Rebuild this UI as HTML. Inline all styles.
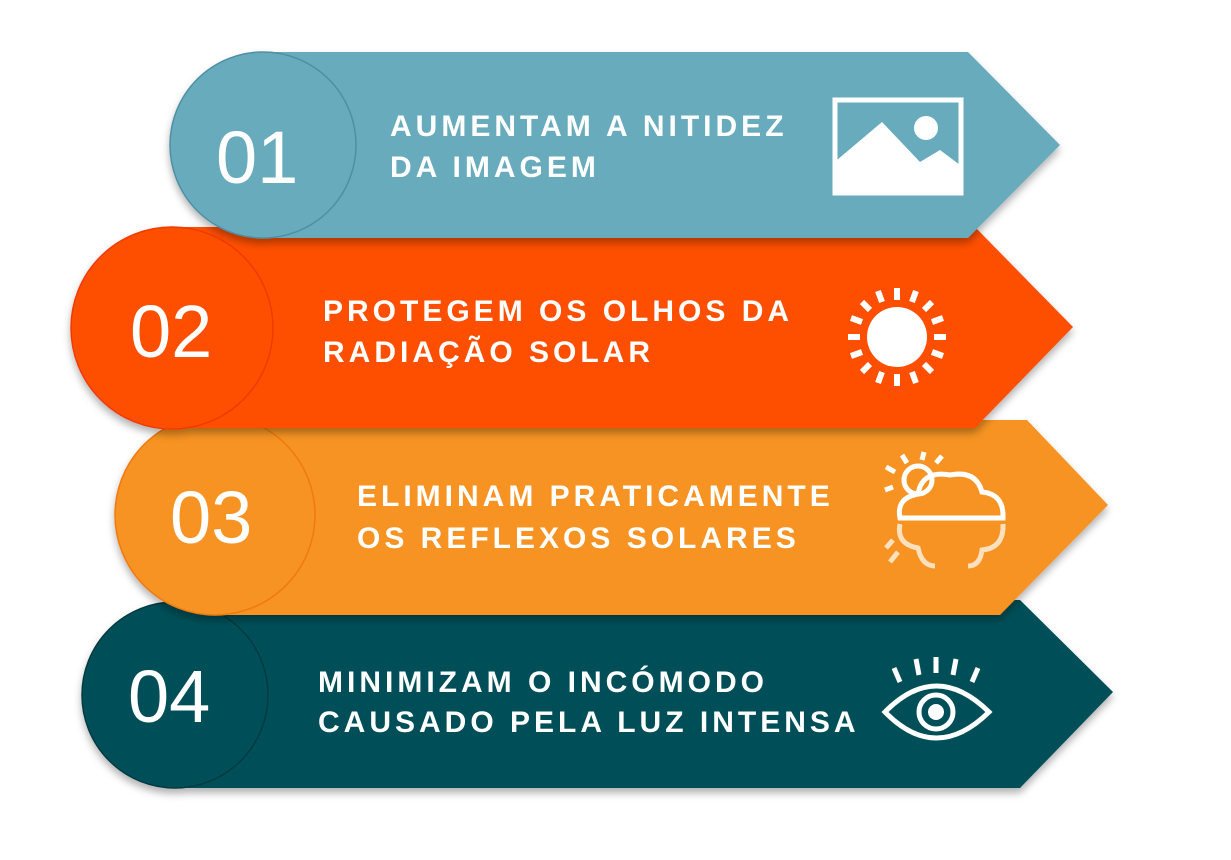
<!DOCTYPE html>
<html><head><meta charset="utf-8"><style>
html,body{margin:0;padding:0;background:#fff;}
svg{display:block}
text{font-family:"Liberation Sans",sans-serif;fill:#fff}
.t{font-weight:bold;font-size:30px;letter-spacing:4px}
.n{font-size:74px}
</style></head><body>
<svg width="1231" height="860" viewBox="0 0 1231 860">
<defs><filter id="sh" x="-10%" y="-10%" width="120%" height="130%"><feDropShadow dx="0" dy="5" stdDeviation="4" flood-color="#000" flood-opacity="0.3"/></filter></defs>
<!-- band 4 -->
<g filter="url(#sh)">
<path d="M175 602 L1020 600 L1113 692 L1020 788 L175 788 Z" fill="#024f59"/>
<circle cx="175" cy="695" r="93" fill="#024f59" stroke="#013a42" stroke-width="1.5"/>
</g>
<text class="n" x="128" y="722">04</text>
<text class="t" x="318" y="692">MINIMIZAM O INCÓMODO</text>
<text class="t" x="318" y="732">CAUSADO PELA LUZ INTENSA</text>
<g fill="none" stroke="#fff" stroke-width="5">
<path d="M885 712 Q936 660 989 712 Q936 764 885 712 Z"/>
<circle cx="936" cy="712" r="17"/>
<path d="M894 668 L900 682 M916 659 L919 675 M936 657 L936 673 M956 659 L953 675 M978 668 L972 682"/>
</g>
<circle cx="936" cy="712" r="8" fill="#fff"/>
<!-- band 3 -->
<g filter="url(#sh)">
<path d="M215 420 L1027 420 L1108 505 L1000 615 L215 615 Z" fill="#f69322"/>
<circle cx="215" cy="515" r="100" fill="#f69322" stroke="#f07a10" stroke-width="1.5"/>
</g>
<text class="n" x="170" y="543">03</text>
<text class="t" x="357" y="506">ELIMINAM PRATICAMENTE</text>
<text class="t" x="357" y="548">OS REFLEXOS SOLARES</text>
<g fill="none" stroke="#fff" stroke-width="5">
<path d="M900 518 Q896 498 918 494 Q922 470 950 475 Q976 470 982 492 Q1004 494 1003 518 Z"/>
<circle cx="918" cy="480" r="14"/>
<path d="M895 472 L886 467 M907 463 L902 455 M922 460 L924 452 M936 463 L942 456 M893 487 L885 490"/>
</g>
<g fill="none" stroke="#fde0bd" stroke-width="5">
<path d="M900 524 Q896 544 918 548 Q922 566 935 566 M968 566 Q980 566 982 550 Q1004 548 1003 524"/>
<path d="M893 540 L886 548 M898 552 L890 562"/>
</g>
<!-- band 2 -->
<g filter="url(#sh)">
<path d="M172 227 L975 227 L1073 327 L975 428 L172 428 Z" fill="#fe5000"/>
<circle cx="172" cy="328" r="101" fill="#fe5000" stroke="#f03a00" stroke-width="1.5"/>
</g>
<text class="n" x="130" y="357">02</text>
<text class="t" x="323" y="321">PROTEGEM OS OLHOS DA</text>
<text class="t" x="323" y="362">RADIAÇÃO SOLAR</text>
<circle cx="897" cy="337" r="30" fill="#fff"/>
<g stroke="#fff" stroke-width="6">
<path d="M897 288 L897 300 M897 374 L897 386 M848 337 L860 337 M934 337 L946 337"/>
<path d="M862 302 L870 310 M924 364 L932 372 M862 372 L870 364 M924 310 L932 302"/>
<path d="M878 291 L882 302 M912 372 L916 383 M878 383 L882 372 M912 302 L916 291 M851 318 L862 322 M932 352 L943 356 M851 356 L862 352 M932 322 L943 318"/>
</g>
<!-- band 1 -->
<g filter="url(#sh)">
<path d="M263 52 L968 52 L1060 145 L968 238 L263 238 Z" fill="#67abbd"/>
<circle cx="263" cy="145" r="93" fill="#67abbd" stroke="#4f8fa3" stroke-width="1.5"/>
</g>
<text class="n" x="216" y="183">01</text>
<text class="t" x="390" y="136">AUMENTAM A NITIDEZ</text>
<text class="t" x="390" y="177">DA IMAGEM</text>
<rect x="835" y="100" width="126" height="93" fill="none" stroke="#fff" stroke-width="5"/>
<path d="M837 160 L882 122 L920 162 L940 150 L960 165 L960 191 L837 191 Z" fill="#fff"/>
<circle cx="926" cy="128" r="12" fill="#fff"/>
</svg>
</body></html>
